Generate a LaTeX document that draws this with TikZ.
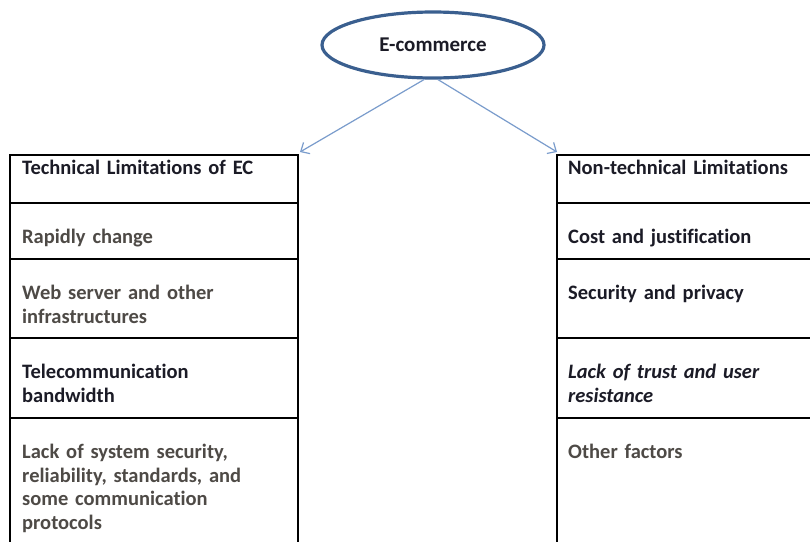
\documentclass[tikz,border=0pt]{standalone}
\usepackage{fontspec}
\setmainfont{Carlito}[Ligatures={NoCommon}]
\usepackage{tikz}
\usetikzlibrary{arrows.meta,shapes.geometric,positioning}
\definecolor{ecborder}{HTML}{3A5F8F}
\definecolor{ecarrow}{HTML}{7A9CCC}
\definecolor{darktext}{HTML}{1B1B26}
\definecolor{greytext}{HTML}{4E4A46}
\tikzset{
  cell/.style={draw, line width=1.3pt, minimum width=288pt, minimum height=#1, anchor=north west,
    inner sep=0pt, outer sep=0pt},
  celltext/.style={anchor=north west, align=left, inner sep=0pt, text width=270pt,
    font=\fontsize{20.5}{23.5}\selectfont\bfseries},
  branch/.style={draw=ecarrow, line width=1.2pt, -{Straight Barb[length=7pt,width=13pt]}}
}

\begin{document}
\begin{tikzpicture}[x=1pt,y=-1pt]
  \useasboundingbox[fill=white] (0,0) rectangle (810,541);
  \clip (0,0) rectangle (810,541);
  \node[ellipse, draw=ecborder, line width=3.2pt, fill=white, minimum width=222pt, minimum height=66pt,
        font=\fontsize{21}{24}\selectfont\bfseries, text=darktext] (ec) at (433,45) {E-commerce}; % top ellipse
  % left column
  \node[cell=48pt] (t1) at (10,155) {};
  \node[cell=56pt] (t2) at (t1.south west) {};
  \node[cell=79pt] (t3) at (t2.south west) {};
  \node[cell=80pt] (t4) at (t3.south west) {};
  \node[cell=140pt] (t5) at (t4.south west) {};
  \node[celltext, text=darktext] (t1txt) at ([xshift=12pt,yshift=-5pt]t1.north west) {Technical Limitations of EC};
  \node[celltext, text=greytext] (t2txt) at ([xshift=12pt,yshift=-26pt]t2.north west) {Rapidly change};
  \node[celltext, text=greytext] (t3txt) at ([xshift=12pt,yshift=-26pt]t3.north west) {Web server and other\\infrastructures};
  \node[celltext, text=darktext] (t4txt) at ([xshift=12pt,yshift=-26pt]t4.north west) {Telecommunication\\bandwidth};
  \node[celltext, text=greytext] (t5txt) at ([xshift=12pt,yshift=-26pt]t5.north west) {Lack of system security,\\reliability, standards, and\\some communication\\protocols};
  % right column
  \node[cell=48pt] (n1) at (557,155) {};
  \node[cell=56pt] (n2) at (n1.south west) {};
  \node[cell=79pt] (n3) at (n2.south west) {};
  \node[cell=80pt] (n4) at (n3.south west) {};
  \node[cell=140pt] (n5) at (n4.south west) {};
  \node[celltext, text=darktext] (n1txt) at ([xshift=11pt,yshift=-5pt]n1.north west) {Non-technical Limitations};
  \node[celltext, text=darktext] (n2txt) at ([xshift=11pt,yshift=-26pt]n2.north west) {Cost and justification};
  \node[celltext, text=darktext] (n3txt) at ([xshift=11pt,yshift=-26pt]n3.north west) {Security and privacy};
  \node[celltext, text=darktext] (n4txt) at ([xshift=11pt,yshift=-26pt]n4.north west) {\itshape Lack of trust and user\\\itshape resistance};
  \node[celltext, text=greytext] (n5txt) at ([xshift=11pt,yshift=-26pt]n5.north west) {Other factors};
  % branches
  \draw[branch] ([xshift=-9pt]ec.south) -- ([xshift=2pt,yshift=3pt]t1.north east);
  \draw[branch] ([xshift=5pt]ec.south) -- ([yshift=3pt]n1.north west);
\end{tikzpicture}
\end{document}
